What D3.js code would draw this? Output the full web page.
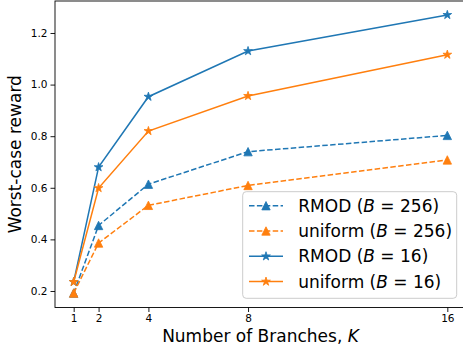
<!DOCTYPE html>
<html>
<head>
<meta charset="utf-8">
<script src="https://cdn.jsdelivr.net/npm/d3@7"></script>
<style>
  html, body { margin: 0; padding: 0; background: #fff; }
  svg { display: block; font-family: "DejaVu Sans", sans-serif; }
</style>
</head>
<body>
<svg id="chart" width="463" height="349"></svg>
<script>
// Number of branches K on the x axis
const branches = [1, 2, 4, 8, 16];
const xTicks = [1, 2, 4, 8, 16];
const yTicks = [0.2, 0.4, 0.6, 0.8, 1.0, 1.2];

// Worst-case reward per method
const rmod256 = [0.192, 0.454, 0.614, 0.740, 0.803];
const uniform256 = [0.192, 0.386, 0.532, 0.609, 0.708];
const rmod16 = [0.235, 0.680, 0.953, 1.130, 1.270];
const uniform16 = [0.235, 0.599, 0.820, 0.956, 1.116];

const seriesNames = ["RMOD", "uniform", "RMOD", "uniform"];
const seriesB = ["256", "256", "16", "16"];

const blue = "#1f77b4", orange = "#ff7f0e";
const series = [
  { values: rmod256, color: blue, dashed: true, marker: "tri" },
  { values: uniform256, color: orange, dashed: true, marker: "tri" },
  { values: rmod16, color: blue, dashed: false, marker: "star" },
  { values: uniform16, color: orange, dashed: false, marker: "star" }
].map((s, i) => Object.assign(s, { name: seriesNames[i], B: seriesB[i] }));

const svg = d3.select("#chart");
const plotLeft = 55, plotRight = 466, plotTop = 1, plotBottom = 307.5;

const x = d3.scaleLinear().domain([0.25, 16.75]).range([plotLeft, plotRight]);
const y = d3.scaleLinear().domain([0.136, 1.324]).range([plotBottom, plotTop]);

// marker paths (centred on the point)
function triPath(h) {
  return `M0,${-h}L${-h},${h}L${h},${h}Z`;
}
function starPath(r) {
  const ri = r * 0.381966;
  let p = "";
  for (let i = 0; i < 10; i++) {
    const rr = i % 2 === 0 ? r : ri;
    const a = -Math.PI / 2 + i * Math.PI / 5;
    p += (i === 0 ? "M" : "L") + (rr * Math.cos(a)).toFixed(3) + "," + (rr * Math.sin(a)).toFixed(3);
  }
  return p + "Z";
}
const markerPath = m => m === "tri" ? triPath(4.2) : starPath(4.6);

// axes
const xAxis = d3.axisBottom(x).tickValues(xTicks).tickFormat(d3.format("d")).tickSize(4.5).tickPadding(3);
const yAxis = d3.axisLeft(y).tickValues(yTicks).tickFormat(d3.format(".1f")).tickSize(4.5).tickPadding(3);

const gx = svg.append("g").attr("transform", `translate(0,${plotBottom})`).call(xAxis);
const gy = svg.append("g").attr("transform", `translate(${plotLeft},0)`).call(yAxis);
[gx, gy].forEach(g => {
  g.select(".domain").remove();
  g.selectAll(".tick line").attr("stroke", "#000").attr("stroke-width", 0.9);
  g.selectAll(".tick text").attr("fill", "#000").style("font-size", "10.5px").style("font-family", "DejaVu Sans");
});

// plot lines and markers
const line = d3.line().x((d, i) => x(branches[i])).y(d => y(d));
const plot = svg.append("g");
series.forEach(s => {
  plot.append("path")
    .datum(s.values)
    .attr("d", line)
    .attr("fill", "none")
    .attr("stroke", s.color)
    .attr("stroke-width", 1.5)
    .attr("stroke-dasharray", s.dashed ? "5.5,2.4" : null);
  plot.selectAll(null)
    .data(s.values)
    .join("path")
    .attr("transform", (d, i) => `translate(${x(branches[i])},${y(d)})`)
    .attr("d", markerPath(s.marker))
    .attr("fill", s.color)
    .attr("stroke", s.color)
    .attr("stroke-width", 0.8)
    .attr("stroke-linejoin", "miter");
});

// spines
svg.append("rect")
  .attr("x", plotLeft).attr("y", plotTop)
  .attr("width", plotRight - plotLeft).attr("height", plotBottom - plotTop)
  .attr("fill", "none").attr("stroke", "#000").attr("stroke-width", 0.9);

// axis labels
svg.append("text")
  .attr("x", (plotLeft + plotRight) / 2).attr("y", 342)
  .attr("text-anchor", "middle")
  .style("font-size", "17px")
  .html('Number of Branches, <tspan font-style="italic">K</tspan>');

svg.append("text")
  .attr("transform", `translate(21,${(plotTop + plotBottom) / 2}) rotate(-90)`)
  .attr("text-anchor", "middle")
  .style("font-size", "17px")
  .text("Worst-case reward");

// legend
const lg = svg.append("g");
lg.append("rect")
  .attr("x", 242.7).attr("y", 191.7)
  .attr("width", 214).attr("height", 106.6)
  .attr("rx", 3.5)
  .attr("fill", "#fff").attr("fill-opacity", 0.8)
  .attr("stroke", "#cccccc").attr("stroke-width", 1);

const rowY = [205.7, 231.0, 256.3, 281.6];
series.forEach((s, i) => {
  const ry = rowY[i];
  lg.append("line")
    .attr("x1", 249).attr("x2", 283)
    .attr("y1", ry).attr("y2", ry)
    .attr("stroke", s.color).attr("stroke-width", 1.5)
    .attr("stroke-dasharray", s.dashed ? "5.5,2.4" : null);
  lg.append("path")
    .attr("transform", `translate(266,${ry})`)
    .attr("d", markerPath(s.marker))
    .attr("fill", s.color).attr("stroke", s.color).attr("stroke-width", 0.8);
  const t = lg.append("text")
    .attr("x", 298.3).attr("y", ry + 6)
    .style("font-size", "17px");
  t.append("tspan").text(s.name + " (");
  t.append("tspan").attr("font-style", "italic").text("B");
  t.append("tspan").text(" = " + s.B + ")");
});
</script>
</body>
</html>
